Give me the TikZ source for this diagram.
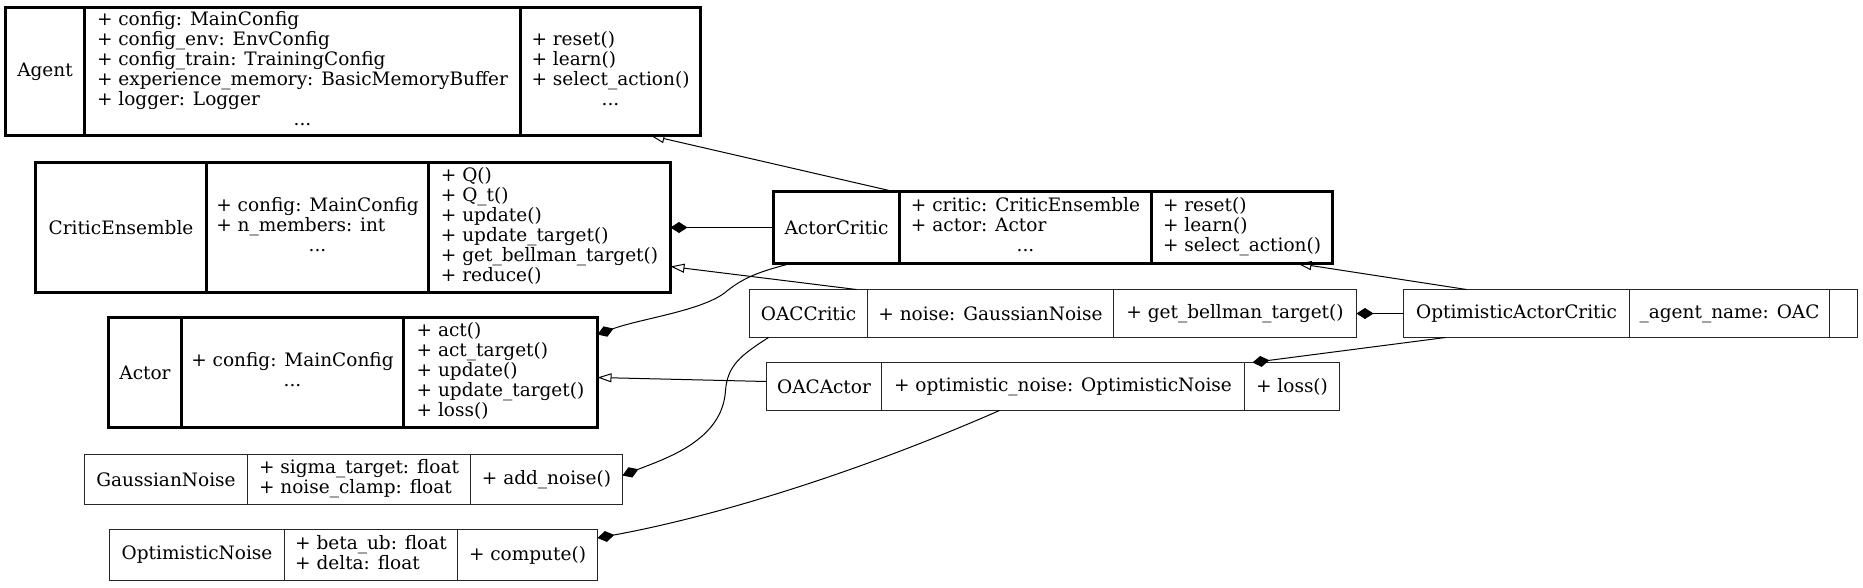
\documentclass[tikz,border=0pt]{standalone}
\usepackage{fontspec}
\newfontfamily\recfamily{DejaVu Serif}
\usetikzlibrary{arrows.meta,calc}
\newcommand\recfont{\recfamily\fontsize{18.5pt}{20pt}\selectfont}
\newcommand\ls[1]{\begin{tabular}{@{}l@{}}#1\end{tabular}}
\newcommand\dotsrow{\multicolumn{1}{@{}c@{}}{...}}
\newcommand\umlrec[9]{%
  \node[box,#2,minimum width={(#6-#3)*1pt},minimum height={(#8-#7)*1pt}] (#1) at (#3,#7) {};
  \node[box,#2,minimum width={(#4-#3)*1pt},minimum height={(#8-#7)*1pt}] (#1-n) at (#3,#7) {#9};
  \node[box,#2,minimum width={(#5-#4)*1pt},minimum height={(#8-#7)*1pt}] (#1-a) at (#4,#7) {\attrs};
  \node[box,#2,minimum width={(#6-#5)*1pt},minimum height={(#8-#7)*1pt}] (#1-m) at (#5,#7) {\meths};
}
\tikzset{
  box/.style={draw, rectangle, inner sep=0pt, outer sep=0pt, anchor=north west, align=center, font=\recfont},
  bold/.style={line width=3pt},
  thin/.style={line width=1pt, draw=black!85},
  inh/.style={line width=1pt, -{Triangle[open, length=14pt, width=9pt]}},
  comp/.style={line width=1pt, -{Diamond[length=17pt, width=11pt]}},
}
\begin{document}
\begin{tikzpicture}[x=1pt, y=-1pt]
\fill[white] (0,0) rectangle (1863,587);
\useasboundingbox (0,0) rectangle (1863,587);
\begin{scope}[xshift=0.5pt, yshift=-0.5pt]

\def\attrs{\ls{+ config: MainConfig\\+ config\_env: EnvConfig\\+ config\_train: TrainingConfig\\+ experience\_memory: BasicMemoryBuffer\\+ logger: Logger\\\dotsrow}}
\def\meths{\ls{+ reset()\\+ learn()\\+ select\_action()\\\dotsrow}}
\umlrec{agent}{bold}{5}{84}{520}{700}{7}{135}{Agent}

\def\attrs{\ls{+ config: MainConfig\\+ n\_members: int\\\dotsrow}}
\def\meths{\ls{+ Q()\\+ Q\_t()\\+ update()\\+ update\_target()\\+ get\_bellman\_target()\\+ reduce()}}
\umlrec{critic}{bold}{35}{206}{428}{670}{162}{292}{CriticEnsemble}

\def\attrs{\ls{+ config: MainConfig\\\dotsrow}}
\def\meths{\ls{+ act()\\+ act\_target()\\+ update()\\+ update\_target()\\+ loss()}}
\umlrec{actor}{bold}{108}{181}{403}{597}{317}{427}{Actor}

\def\attrs{\ls{+ sigma\_target: float\\+ noise\_clamp: float}}
\def\meths{+ add\_noise()}
\umlrec{gauss}{thin}{84}{247}{470}{622}{454}{504}{GaussianNoise}

\def\attrs{\ls{+ beta\_ub: float\\+ delta: float}}
\def\meths{+ compute()}
\umlrec{optnoise}{thin}{109}{284}{457}{597}{529}{580}{OptimisticNoise}

\def\attrs{\ls{+ critic: CriticEnsemble\\+ actor: Actor\\\dotsrow}}
\def\meths{\ls{+ reset()\\+ learn()\\+ select\_action()}}
\umlrec{ac}{bold}{773}{899}{1151}{1332}{191}{263}{ActorCritic}

\def\attrs{+ noise: GaussianNoise}
\def\meths{+ get\_bellman\_target()}
\umlrec{oaccritic}{thin}{749}{867}{1113}{1356}{289}{337}{OACCritic}

\def\attrs{+ optimistic\_noise: OptimisticNoise}
\def\meths{+ loss()}
\umlrec{oacactor}{thin}{766}{881}{1244}{1339}{362}{410}{OACActor}

\def\attrs{\_agent\_name: OAC}
\def\meths{}
\umlrec{oac}{thin}{1403}{1629}{1829}{1857}{289}{337}{OptimisticActorCritic}

% connectors
\draw[inh] ($(ac.north west)+(120,0)$) -- ($(agent.south west)+(645,0)$);
\draw[comp] (ac.west) -- (critic.east);
\draw[comp] ($(ac.south west)+(17,0)$) .. controls (760,271) and (745,276) .. (727,290) .. controls (705,310) and (640,318) .. ($(actor.north east)+(0,17)$);
\draw[inh] ($(oaccritic.north west)+(107,0)$) -- ($(critic.south east)+(0,-26)$);
\draw[inh] ($(oac.north west)+(63,0)$) -- ($(ac.south west)+(524,0)$);
\draw[comp] (oac.west) -- (oaccritic.east);
\draw[comp] ($(oac.south west)+(42,0)$) -- ($(oacactor.north west)+(486,0)$);
\draw[inh] ($(oacactor.west)+(0,-5)$) -- ($(actor.east)+(0,5)$);
\draw[comp] ($(oaccritic.south west)+(19,0)$) .. controls (740,355) and (727,365) .. (725,390) .. controls (722,440) and (665,458) .. ($(gauss.east)+(0,-4)$);
\draw[comp] ($(oacactor.south west)+(233,0)$) .. controls (862,470) and (720,515) .. ($(optnoise.east)+(0,-17)$);
\end{scope}
\end{tikzpicture}
\end{document}
